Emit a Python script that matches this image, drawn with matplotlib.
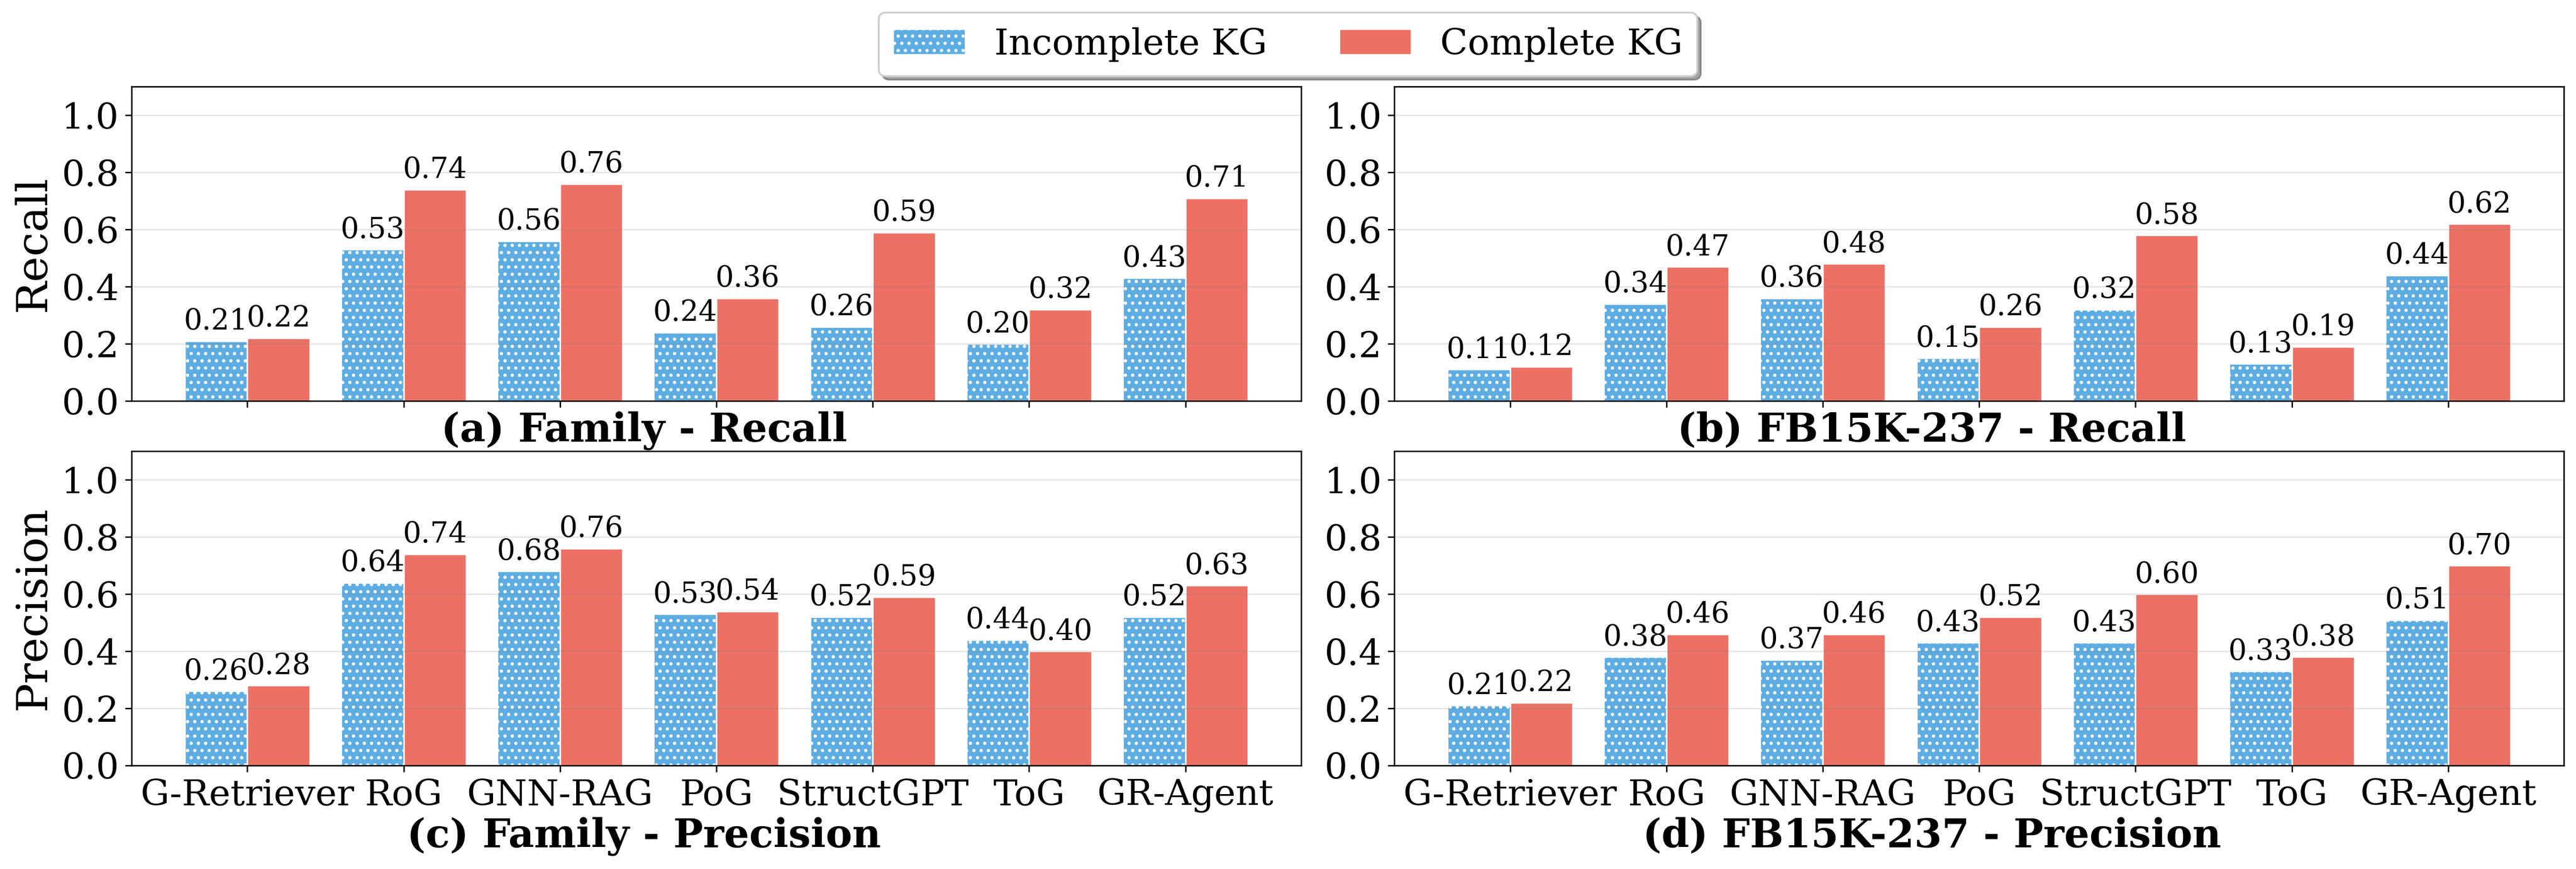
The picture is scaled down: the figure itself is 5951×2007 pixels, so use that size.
import matplotlib
matplotlib.use('Agg')
import matplotlib.pyplot as plt
import numpy as np

plt.rcParams['font.family'] = 'serif'
plt.rcParams['font.serif'] = ['DejaVu Serif']

# Daten
methods = ['G-Retriever', 'RoG', 'GNN-RAG', 'PoG', 'StructGPT', 'ToG', 'GR-Agent']

family_recall_incomplete = [0.21, 0.53, 0.56, 0.24, 0.26, 0.20, 0.43]
family_recall_complete = [0.22, 0.74, 0.76, 0.36, 0.59, 0.32, 0.71]

fb_recall_incomplete = [0.11, 0.34, 0.36, 0.15, 0.32, 0.13, 0.44]
fb_recall_complete = [0.12, 0.47, 0.48, 0.26, 0.58, 0.19, 0.62]

family_precision_incomplete = [0.26, 0.64, 0.68, 0.53, 0.52, 0.44, 0.52]
family_precision_complete = [0.28, 0.74, 0.76, 0.54, 0.59, 0.40, 0.63]

fb_precision_incomplete = [0.21, 0.38, 0.37, 0.43, 0.43, 0.33, 0.51]
fb_precision_complete = [0.22, 0.46, 0.46, 0.52, 0.60, 0.38, 0.70]

titles = ['(a) Family - Recall', '(b) FB15K-237 - Recall',
          '(c) Family - Precision', '(d) FB15K-237 - Precision']

blue = '#5DADE2'
red = '#EC7063'
width = 0.4

fig = plt.figure(figsize=(5951 / 300, 2007 / 300), dpi=300)

# Positionen der Achsen (Figurenanteile)
left_x = [0.0511, 0.5413]
row_y = [0.5386, 0.1191]
ax_w = 0.4540
ax_h = 0.3615

panels = [
    (family_recall_incomplete, family_recall_complete),
    (fb_recall_incomplete, fb_recall_complete),
    (family_precision_incomplete, family_precision_complete),
    (fb_precision_incomplete, fb_precision_complete),
]

x = np.arange(len(methods))
axes = []
for i, (inc, comp) in enumerate(panels):
    r, c = divmod(i, 2)
    ax = fig.add_axes([left_x[c], row_y[r], ax_w, ax_h])
    axes.append(ax)
    b1 = ax.bar(x - width / 2, inc, width, color=blue, hatch='...',
                edgecolor='white', linewidth=0.8, label='Incomplete KG')
    b2 = ax.bar(x + width / 2, comp, width, color=red,
                edgecolor='white', linewidth=0.8, label='Complete KG')
    ax.bar_label(b1, fmt='%.2f', padding=3, fontsize=16)
    ax.bar_label(b2, fmt='%.2f', padding=3, fontsize=16)
    ax.set_ylim(0, 1.1)
    ax.set_yticks([0.0, 0.2, 0.4, 0.6, 0.8, 1.0])
    ax.tick_params(axis='y', labelsize=20)
    ax.set_xticks(x)
    if r == 0:
        ax.set_xticklabels([])
    else:
        ax.set_xticklabels(methods, fontsize=20)
    ax.yaxis.grid(True, color='gray', alpha=0.2, linewidth=0.8)
    if c == 0:
        ax.set_ylabel('Recall' if r == 0 else 'Precision', fontsize=24)

# Untertitel unter den Achsen
fig.text(0.25, 0.4918, titles[0], ha='center', va='baseline', fontsize=22, fontweight='bold')
fig.text(0.75, 0.4918, titles[1], ha='center', va='baseline', fontsize=22, fontweight='bold')
fig.text(0.25, 0.0249, titles[2], ha='center', va='baseline', fontsize=22, fontweight='bold')
fig.text(0.75, 0.0249, titles[3], ha='center', va='baseline', fontsize=22, fontweight='bold')

handles, labels = axes[0].get_legend_handles_labels()
fig.legend(handles, labels, loc='upper center', bbox_to_anchor=(0.5, 1.0), ncol=2,
           fontsize=20, fancybox=True, shadow=True, borderaxespad=0.35)

fig.savefig('out.png', dpi=300)
